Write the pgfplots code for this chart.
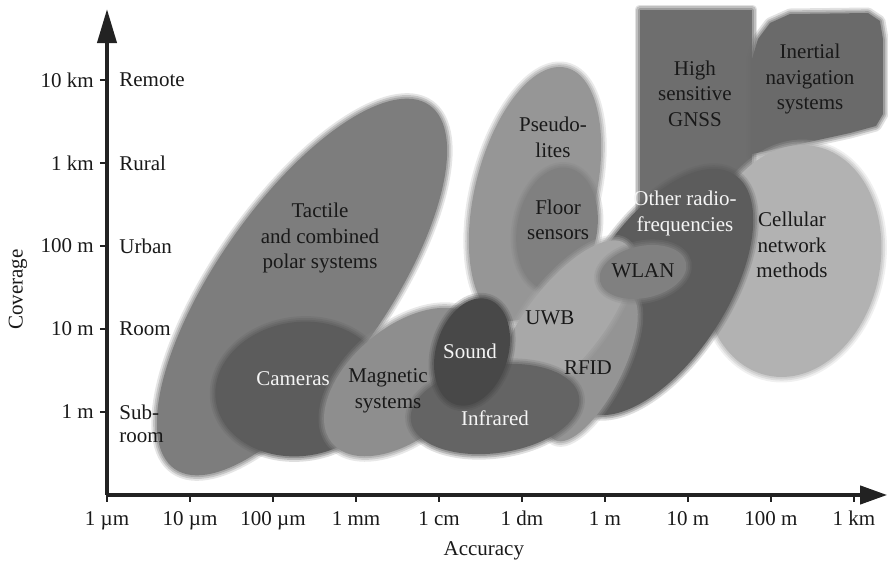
\documentclass[border=0pt]{standalone}
\usepackage{fontspec}
\setmainfont{Liberation Serif}
\usepackage{pgfplots}
\usepackage{pgfplotstable}
\pgfplotsset{compat=1.18}
\usetikzlibrary{arrows.meta}

\definecolor{axisc}{RGB}{34,34,34}
\definecolor{txtd}{RGB}{25,25,25}
\definecolor{txtw}{RGB}{245,245,245}
\definecolor{gnss}{RGB}{110,110,110}
\definecolor{inert}{RGB}{106,106,106}

\newcommand{\lbl}{\fontsize{10.5}{12.8}\selectfont}
\def\du{41.5pt}
\pgfdeclareplotmark{blank}{}

\tikzset{
  blurfill/.style={
    preaction={draw=#1, fill=none, line width=5.5pt, opacity=0.2, line join=round},
    preaction={draw=#1, fill=none, line width=3.6pt, opacity=0.3, line join=round},
    preaction={draw=#1, fill=none, line width=1.8pt, opacity=0.4, line join=round},
    fill=#1, draw=none}
}

% soft edged, rotated ellipse around the current marker position
\newcommand{\ellstroke}[2]{%
  \pgfscope\pgfsetlinewidth{#1}\pgfsetstrokeopacity{#2}\ellpath\pgfusepath{stroke}\endpgfscope}
\newcommand{\blurellipse}{%
  \pgfmathsetlengthmacro\axx{\ellRa*\du*cos(\ellAng)}%
  \pgfmathsetlengthmacro\axy{\ellRa*\du*sin(\ellAng)}%
  \pgfmathsetlengthmacro\bxx{-\ellRb*\du*sin(\ellAng)}%
  \pgfmathsetlengthmacro\bxy{\ellRb*\du*cos(\ellAng)}%
  \def\ellpath{\pgfpathellipse{\pgfpointorigin}{\pgfqpoint{\axx}{\axy}}{\pgfqpoint{\bxx}{\bxy}}}%
  \pgfscope
  \definecolor{ellc}{gray}{\ellGray}%
  \pgfsetcolor{ellc}\pgfsetroundjoin
  \ellstroke{5.5pt}{0.2}\ellstroke{3.6pt}{0.3}\ellstroke{1.8pt}{0.4}%
  \ellpath\pgfusepath{fill}%
  \endpgfscope}

% ellipses drawn behind the GNSS / inertial boxes
\pgfplotstableread{
x      y      a      b      ang  gray
2.349  1.506  2.675  1.024  55   125
2.325  0.277  1.024  0.807  8    92
3.590  0.361  1.145  0.663  40   142
5.157  2.627  1.566  0.723  76   150
5.422  2.205  0.747  0.482  80   128
}\shapesA

% ellipses drawn in front of them
\pgfplotstableread{
x      y      a      b      ang  gray
8.253  1.819  1.410  1.060  78   178
6.639  1.446  1.687  0.819  57   92
5.843  0.542  0.988  0.361  63   148
5.518  1.096  1.181  0.458  52   168
6.458  1.687  0.530  0.313  12   128
4.675  0.036  1.024  0.530  8    100
4.398  0.723  0.663  0.434  73   72
}\shapesB

% names, dark text
\pgfplotstableread[col sep=comma]{
x,y,label
2.566,2.096,{Tactile\\and combined\\polar systems}
3.386,0.253,{Magnetic\\systems}
5.337,1.133,UWB
5.795,0.530,RFID
5.373,3.307,{Pseudo-\\lites}
5.434,2.313,{Floor\\sensors}
6.458,1.699,WLAN
7.084,3.837,{High\\sensitive\\GNSS}
8.470,4.012,{Inertial\\navigation\\systems}
8.253,2.012,{Cellular\\network\\methods}
}\namesDark

% names, white text
\pgfplotstableread[col sep=comma]{
x,y,label
2.241,0.398,Cameras
4.373,0.735,Sound
4.675,-0.072,Infrared
6.964,2.392,{Other radio-\\frequencies}
}\namesWhite

% classes of coverage, right of the y axis
\pgfplotstableread[col sep=comma]{
x,y,label
0,4,Remote
0,3,Rural
0,2,Urban
0,1,Room
0,0,Sub-
0,-0.31,room
}\classes

\pgfplotsset{
  ellipses/.style={
    scatter, only marks, mark=blank,
    visualization depends on={\thisrow{a}\as\ellRa},
    visualization depends on={\thisrow{b}\as\ellRb},
    visualization depends on={\thisrow{ang}\as\ellAng},
    visualization depends on={\thisrow{gray}/255\as\ellGray},
    scatter/@pre marker code/.code={\blurellipse},
    scatter/@post marker code/.code={},
  },
  names/.style={
    only marks, mark=blank,
    point meta=explicit symbolic,
    nodes near coords,
    every node near coord/.style={anchor=center, align=center, font=\lbl,
      text=#1, inner sep=0pt, yshift=0pt},
  },
}

\begin{document}
\begin{tikzpicture}[font=\lbl]
\useasboundingbox (0,0) rectangle (444pt,282.5pt);
\begin{axis}[
    at={(53.5pt,35pt)}, anchor=south west,
    x=\du, y=\du,
    xmin=0, xmax=9.4, ymin=-1, ymax=4.855,
    axis lines=left,
    clip=false,
    axis line style={line width=2pt, color=axisc},
    x axis line style={-{Triangle[length=13.5pt,width=9pt]}},
    y axis line style={-{Triangle[length=17pt,width=9.5pt]}},
    xtick={0,1,2,3,4,5,6,7,8,9},
    xticklabels={1 µm,10 µm,100 µm,1 mm,1 cm,1 dm,1 m,10 m,100 m,1 km},
    ytick={0,1,2,3,4},
    yticklabels={1 m,10 m,100 m,1 km,10 km},
    tick align=outside,
    major tick length=3.5pt,
    tick style={line width=1pt, color=axisc},
    ticklabel style={font=\lbl, text=txtd},
    xticklabel style={inner sep=0pt, anchor=north, yshift=-4.5pt},
    yticklabel style={inner sep=0pt, anchor=east, xshift=-3pt},
    xlabel={Accuracy}, ylabel={Coverage},
    label style={font=\lbl, text=txtd},
    xlabel style={at={(axis description cs:0.483,-0.114)}, anchor=center},
    ylabel style={at={(axis description cs:-0.114,0.423)}, anchor=center},
]

\addplot[ellipses] table[x=x, y=y] {\shapesA};

% high sensitive GNSS
\addplot[blurfill=gnss] coordinates {
  (6.422,2.205) (6.422,4.843) (7.771,4.843) (7.771,2.205)
} -- cycle;

% inertial navigation systems
\addplot[blurfill=inert] coordinates {
  (7.771,4.253) (7.843,4.494) (7.988,4.687) (8.229,4.795) (9.169,4.807)
  (9.313,4.711) (9.349,4.494) (9.349,3.590) (9.265,3.446) (8.952,3.361)
  (8.349,3.229) (7.771,3.108)
} -- cycle;

\addplot[ellipses] table[x=x, y=y] {\shapesB};

\addplot[names=txtd] table[x=x, y=y, meta=label] {\namesDark};
\addplot[names=txtw] table[x=x, y=y, meta=label] {\namesWhite};
\addplot[names=txtd, every node near coord/.append style={anchor=west, xshift=6pt}]
  table[x=x, y=y, meta=label] {\classes};

\end{axis}
\end{tikzpicture}
\end{document}
